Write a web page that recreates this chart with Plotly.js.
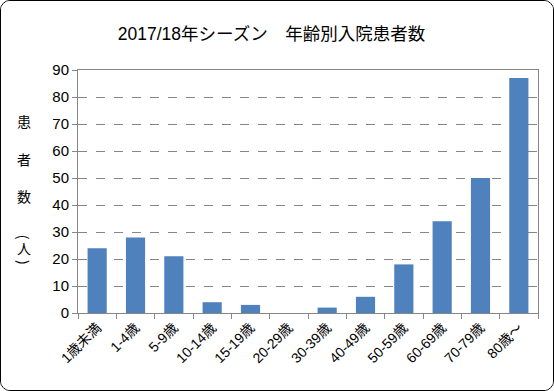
<!DOCTYPE html>
<html><head><meta charset="utf-8">
<script src="https://cdn.plot.ly/plotly-3.0.1.min.js"></script>
<style>
html,body{margin:0;padding:0;background:#fff;}
#frame{width:552px;height:389px;border:1px solid #000;border-radius:10px;overflow:hidden;position:relative;}
#chart{width:552px;height:389px;}
</style></head>
<body><div id="frame"><div id="chart"></div></div>
<script>
const categories = ["1歳未満","1-4歳","5-9歳","10-14歳","15-19歳","20-29歳","30-39歳","40-49歳","50-59歳","60-69歳","70-79歳","80歳～"];
const patients = [24, 28, 21, 4, 3, 0, 2, 6, 18, 34, 50, 87];
const yTicks = [0,10,20,30,40,50,60,70,80,90];
const titleText = "2017/18年シーズン　年齢別入院患者数";
const yTitleChars = ["患","者","数","(","人",")"];
const yTitlePos = [71, 57, 43.3, 28.2, 24.0, 18.8];
const yTitleAngle = [0, 0, 0, 90, 0, 90];

const font = "Liberation Sans, Arial, 'Noto Sans CJK JP', sans-serif";
const anns = yTitleChars.map((c, i) => ({
  text: c, xref: 'paper', yref: 'y', x: -0.117, y: yTitlePos[i], xanchor: 'center', yanchor: 'middle',
  textangle: yTitleAngle[i],
  showarrow: false, font: {family: "'Noto Sans CJK JP', sans-serif", size: 14, color: '#000'}
}));
Plotly.newPlot('chart', [{
  type: 'bar', x: categories, y: patients,
  marker: {color: '#4f81bd'}, hoverinfo: 'none'
}], {
  width: 552, height: 389,
  margin: {l: 77, r: 15, t: 69, b: 77},
  paper_bgcolor: '#fff', plot_bgcolor: '#fff',
  bargap: 0.5,
  font: {family: font, size: 14, color: '#000'},
  title: {text: titleText, font: {family: font, size: 17.5, color: '#000'}, x: 0.49, xanchor: 'center', y: 0.915, yanchor: 'middle'},
  xaxis: {
    type: 'category', tickangle: -45, ticks: 'outside', tickson: 'boundaries', ticklen: 5,
    tickcolor: '#868686', linecolor: '#868686', linewidth: 1, mirror: true, showgrid: false,
    tickfont: {family: font, size: 14, color: '#000'}
  },
  yaxis: {
    range: [0, 90], tickvals: yTicks, ticks: 'outside', ticklen: 5, tickcolor: '#868686',
    linecolor: '#868686', linewidth: 1, mirror: true,
    showgrid: true, gridcolor: '#868686', griddash: 'dash', gridwidth: 1, zeroline: false,
    tickfont: {family: font, size: 15, color: '#000'}
  },
  annotations: anns,
  showlegend: false
}, {staticPlot: true});
</script></body></html>
